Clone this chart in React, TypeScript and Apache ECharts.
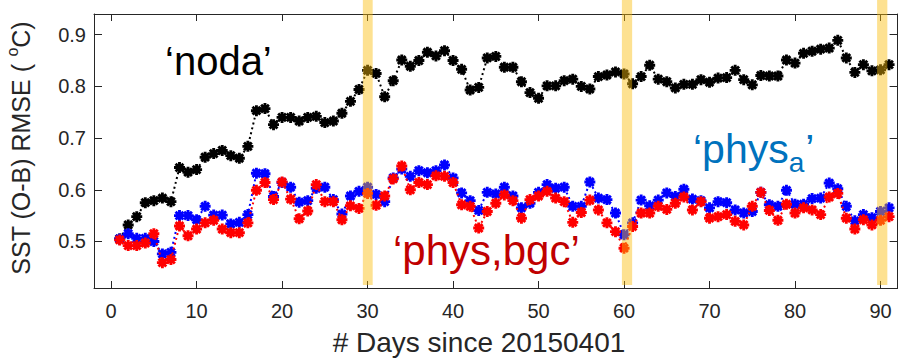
import React, { useEffect, useRef } from "react";
import * as echarts from "echarts";

// ---------- data ----------
const days: number[] = Array.from({ length: 91 }, (_, i) => i + 1);

const noda = [
  0.505, 0.532, 0.548, 0.575, 0.579, 0.584, 0.577, 0.643, 0.634, 0.639,
  0.663, 0.670, 0.676, 0.666, 0.661, 0.684, 0.753, 0.757, 0.726, 0.740,
  0.740, 0.733, 0.740, 0.742, 0.730, 0.733, 0.748, 0.771, 0.794, 0.831,
  0.825, 0.780, 0.811, 0.851, 0.839, 0.850, 0.866, 0.859, 0.869, 0.850,
  0.833, 0.793, 0.798, 0.855, 0.858, 0.837, 0.837, 0.809, 0.788, 0.777,
  0.801, 0.801, 0.811, 0.814, 0.800, 0.795, 0.819, 0.822, 0.828, 0.824,
  0.805, 0.819, 0.841, 0.814, 0.809, 0.797, 0.804, 0.804, 0.813, 0.808,
  0.816, 0.817, 0.831, 0.813, 0.803, 0.821, 0.820, 0.820, 0.851, 0.845,
  0.864, 0.868, 0.872, 0.874, 0.889, 0.855, 0.827, 0.842, 0.830, 0.832,
  0.842,
];

const physA = [
  0.505, 0.515, 0.506, 0.506, 0.500, 0.476, 0.479, 0.550, 0.550, 0.542,
  0.568, 0.551, 0.551, 0.534, 0.537, 0.552, 0.632, 0.631, 0.587, 0.614,
  0.605, 0.576, 0.579, 0.603, 0.605, 0.581, 0.553, 0.588, 0.597, 0.605,
  0.591, 0.577, 0.623, 0.640, 0.626, 0.637, 0.633, 0.637, 0.648, 0.623,
  0.594, 0.579, 0.560, 0.595, 0.592, 0.605, 0.588, 0.565, 0.574, 0.595,
  0.610, 0.603, 0.605, 0.568, 0.568, 0.615, 0.584, 0.581, 0.555, 0.513,
  0.536, 0.580, 0.569, 0.580, 0.594, 0.587, 0.601, 0.582, 0.579, 0.565,
  0.577, 0.575, 0.561, 0.555, 0.558, 0.595, 0.571, 0.568, 0.599, 0.572,
  0.572, 0.583, 0.584, 0.613, 0.602, 0.568, 0.540, 0.552, 0.546, 0.558,
  0.565,
];

const physBgc = [
  0.503, 0.492, 0.492, 0.497, 0.515, 0.459, 0.465, 0.530, 0.511, 0.524,
  0.536, 0.541, 0.524, 0.517, 0.517, 0.536, 0.599, 0.614, 0.581, 0.615,
  0.582, 0.544, 0.559, 0.610, 0.577, 0.577, 0.542, 0.569, 0.564, 0.593,
  0.570, 0.588, 0.621, 0.646, 0.600, 0.614, 0.610, 0.627, 0.626, 0.614,
  0.571, 0.568, 0.526, 0.558, 0.574, 0.590, 0.579, 0.545, 0.581, 0.588,
  0.597, 0.584, 0.577, 0.537, 0.556, 0.580, 0.561, 0.536, 0.519, 0.487,
  0.529, 0.555, 0.555, 0.568, 0.562, 0.574, 0.586, 0.561, 0.577, 0.545,
  0.548, 0.552, 0.539, 0.532, 0.568, 0.595, 0.560, 0.541, 0.572, 0.555,
  0.565, 0.561, 0.552, 0.586, 0.593, 0.545, 0.524, 0.542, 0.532, 0.541,
  0.548,
];

const xTicks = [0, 10, 20, 30, 40, 50, 60, 70, 80, 90];
const yTicks = [0.5, 0.6, 0.7, 0.8, 0.9];

const bandStart = [29.45, 59.75, 89.6];
const bandEnd = [30.6, 60.95, 90.8];
const bandTop = 0.975;
const bandBottom = 0.416;

// ---------- style ----------
const FONT = "'Liberation Sans', Arial, Helvetica, sans-serif";
const AXIS_COLOR = "#262626";
const BAND_COLOR = "rgba(250, 188, 10, 0.45)";

function asteriskSymbol(): string {
  const L = 11;
  const w = 2.9;
  let d = "";
  for (const a of [0, 45, 90, 135]) {
    const r = (a * Math.PI) / 180;
    const c = Math.cos(r);
    const s = Math.sin(r);
    const pts = [
      [-L / 2, -w / 2],
      [L / 2, -w / 2],
      [L / 2, w / 2],
      [-L / 2, w / 2],
    ].map(([x, y]) => [x * c - y * s, x * s + y * c]);
    d +=
      "M" +
      pts.map((p) => p[0].toFixed(3) + " " + p[1].toFixed(3)).join(" L") +
      " Z ";
  }
  return "path://" + d;
}

function textWidth(str: string, size: number): number {
  const ctx = document.createElement("canvas").getContext("2d");
  if (!ctx) return str.length * size * 0.55;
  ctx.font = `${size}px ${FONT}`;
  return ctx.measureText(str).width;
}

function buildOption() {
  const sym = asteriskSymbol();

  const mkSeries = (name: string, vals: number[], color: string, z: number) => ({
    name,
    type: "line",
    data: days.map((d, i) => [d, vals[i]]),
    symbol: sym,
    symbolSize: 11,
    showSymbol: true,
    itemStyle: { color },
    lineStyle: { color, width: 2, type: [2, 3] },
    z,
    silent: true,
  });

  const xAxisBase = {
    type: "value",
    min: -2,
    max: 92,
    splitLine: { show: false },
    axisLine: { show: true, onZero: false, lineStyle: { color: AXIS_COLOR, width: 1 } },
    axisTick: {
      show: true,
      inside: true,
      length: 7,
      customValues: xTicks,
      lineStyle: { color: AXIS_COLOR, width: 1 },
    },
  };
  const yAxisBase = {
    type: "value",
    min: 0.41,
    max: 0.94,
    splitLine: { show: false },
    axisLine: { show: true, onZero: false, lineStyle: { color: AXIS_COLOR, width: 1 } },
    axisTick: {
      show: true,
      inside: true,
      length: 8,
      customValues: yTicks,
      lineStyle: { color: AXIS_COLOR, width: 1 },
    },
  };

  // annotation texts
  const physMain = "\u2018phys";
  const physMainSize = 41;
  const physSubSize = 28;
  const physX = 693;
  const physY = 149;
  const wMain = textWidth(physMain, physMainSize);
  const wSub = textWidth("a", physSubSize);

  const ySize = 25;
  const ySupSize = 16;
  const y1 = "SST (O-B) RMSE ( ";
  const y2 = "C)";
  const wy1 = textWidth(y1, ySize);
  const wySup = textWidth("o", ySupSize);
  const wy2 = textWidth(y2, ySize);
  const wyTot = wy1 + wySup + wy2;
  const yStart = -wyTot / 2;

  return {
    animation: false,
    backgroundColor: "#ffffff",
    grid: {
      left: 94,
      top: 14,
      width: 803.6,
      height: 274,
      containLabel: false,
      outerBoundsMode: "none",
    },
    xAxis: [
      {
        ...xAxisBase,
        position: "bottom",
        axisLabel: {
          show: true,
          customValues: xTicks,
          margin: 13,
          fontSize: 20,
          fontFamily: FONT,
          color: AXIS_COLOR,
          formatter: (v: number) => String(v),
        },
      },
      {
        ...xAxisBase,
        position: "top",
        axisLabel: { show: false },
      },
    ],
    yAxis: [
      {
        ...yAxisBase,
        position: "left",
        axisLabel: {
          show: true,
          customValues: yTicks,
          margin: 8,
          fontSize: 20,
          fontFamily: FONT,
          color: AXIS_COLOR,
          formatter: (v: number) => v.toFixed(1),
        },
      },
      {
        ...yAxisBase,
        position: "right",
        axisLabel: { show: false },
      },
    ],
    series: [
      mkSeries("noda", noda, "#000000", 2),
      mkSeries("phys_a", physA, "#0000ff", 3),
      mkSeries("phys,bgc", physBgc, "#ff0000", 4),
      {
        type: "custom",
        name: "bands",
        clip: false,
        silent: true,
        z: 10,
        data: bandStart.map((s, i) => [s, bandEnd[i]]),
        encode: { x: [0, 1] },
        renderItem: (params: any, api: any) => {
          const p0 = api.coord([api.value(0), bandTop]);
          const p1 = api.coord([api.value(1), bandBottom]);
          return {
            type: "rect",
            shape: { x: p0[0], y: p0[1], width: p1[0] - p0[0], height: p1[1] - p0[1] },
            style: { fill: BAND_COLOR },
          };
        },
      },
    ],
    graphic: [
      {
        type: "text",
        x: 165,
        y: 61,
        z: 20,
        style: {
          text: "\u2018noda\u2019",
          font: `40px ${FONT}`,
          fill: "#000000",
          textAlign: "left",
          textVerticalAlign: "middle",
        },
      },
      {
        type: "text",
        x: 393,
        y: 250,
        z: 20,
        style: {
          text: "\u2018phys,bgc\u2019",
          font: `42px ${FONT}`,
          fill: "#c00000",
          textAlign: "left",
          textVerticalAlign: "middle",
        },
      },
      {
        type: "text",
        x: physX,
        y: physY,
        z: 20,
        style: {
          text: physMain,
          font: `${physMainSize}px ${FONT}`,
          fill: "#0072bd",
          textAlign: "left",
          textVerticalAlign: "middle",
        },
      },
      {
        type: "text",
        x: physX + wMain,
        y: physY + 13,
        z: 20,
        style: {
          text: "a",
          font: `${physSubSize}px ${FONT}`,
          fill: "#0072bd",
          textAlign: "left",
          textVerticalAlign: "middle",
        },
      },
      {
        type: "text",
        x: physX + wMain + wSub + 1,
        y: physY,
        z: 20,
        style: {
          text: "\u2019",
          font: `${physMainSize}px ${FONT}`,
          fill: "#0072bd",
          textAlign: "left",
          textVerticalAlign: "middle",
        },
      },
      {
        type: "text",
        x: 479,
        y: 342,
        z: 20,
        style: {
          text: "# Days since 20150401",
          font: `28px ${FONT}`,
          fill: AXIS_COLOR,
          textAlign: "center",
          textVerticalAlign: "middle",
        },
      },
      {
        type: "group",
        x: 21,
        y: 148,
        rotation: Math.PI / 2,
        z: 20,
        children: [
          {
            type: "text",
            x: yStart,
            y: 0,
            style: {
              text: y1,
              font: `${ySize}px ${FONT}`,
              fill: AXIS_COLOR,
              textAlign: "left",
              textVerticalAlign: "middle",
            },
          },
          {
            type: "text",
            x: yStart + wy1,
            y: -9,
            style: {
              text: "o",
              font: `${ySupSize}px ${FONT}`,
              fill: AXIS_COLOR,
              textAlign: "left",
              textVerticalAlign: "middle",
            },
          },
          {
            type: "text",
            x: yStart + wy1 + wySup,
            y: 0,
            style: {
              text: y2,
              font: `${ySize}px ${FONT}`,
              fill: AXIS_COLOR,
              textAlign: "left",
              textVerticalAlign: "middle",
            },
          },
        ],
      },
    ],
  };
}

export default function App() {
  const ref = useRef<HTMLDivElement>(null);
  useEffect(() => {
    document.body.style.margin = "0";
    if (!ref.current) return;
    const chart = echarts.init(ref.current, null, { renderer: "svg" });
    chart.setOption(buildOption() as any);
    return () => {
      chart.dispose();
    };
  }, []);
  return (
    <div
      ref={ref}
      style={{ position: "absolute", left: 0, top: 0, width: 901, height: 358 }}
    />
  );
}
